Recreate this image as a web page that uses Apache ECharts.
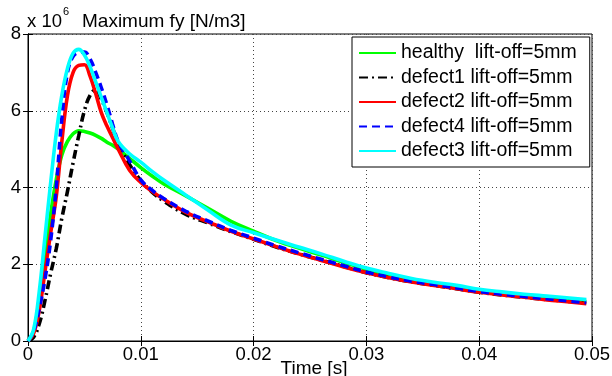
<!DOCTYPE html>
<html>
<head>
<meta charset="utf-8">
<script src="https://cdn.jsdelivr.net/npm/echarts@6/dist/echarts.min.js"></script>
<style>
html,body{margin:0;padding:0;background:#fff;}
#chart{width:612px;height:376px;}
</style>
</head>
<body>
<div id="chart"></div>
<script>
// ---- data (values in units of 10^6 N/m3) ----
const timeS = [0, 0.0005, 0.001, 0.0015, 0.002, 0.0025, 0.003, 0.0035, 0.004, 0.0045, 0.005, 0.0055, 0.006, 0.0065, 0.007, 0.0075, 0.008, 0.009, 0.010, 0.011, 0.012, 0.014, 0.016, 0.018, 0.020, 0.022, 0.024, 0.026, 0.028, 0.030, 0.032, 0.034, 0.036, 0.038, 0.040, 0.042, 0.044, 0.046, 0.048, 0.0495];

const healthy = [0, 0.25, 1.1, 2.2, 3.3, 4.2, 4.85, 5.2, 5.4, 5.48, 5.46, 5.42, 5.36, 5.28, 5.18, 5.1, 5.0, 4.76, 4.52, 4.3, 4.1, 3.78, 3.45, 3.12, 2.86, 2.62, 2.42, 2.24, 2.05, 1.87, 1.73, 1.6, 1.5, 1.41, 1.31, 1.24, 1.18, 1.12, 1.07, 1.03];
const defect1 = [0, 0.1, 0.45, 1.05, 1.75, 2.4, 3.2, 3.9, 4.65, 5.35, 6.0, 6.4, 6.55, 6.3, 5.95, 5.55, 5.15, 4.6, 4.18, 3.88, 3.65, 3.3, 3.07, 2.85, 2.65, 2.45, 2.27, 2.11, 1.94, 1.78, 1.65, 1.54, 1.45, 1.36, 1.27, 1.2, 1.14, 1.08, 1.03, 0.98];
const defect2 = [0, 0.2, 0.8, 1.8, 2.8, 3.75, 5.2, 6.4, 7.0, 7.18, 7.2, 6.9, 6.45, 5.95, 5.6, 5.3, 5.0, 4.45, 4.13, 3.9, 3.7, 3.35, 3.1, 2.86, 2.66, 2.46, 2.27, 2.1, 1.93, 1.78, 1.65, 1.54, 1.45, 1.36, 1.27, 1.2, 1.14, 1.07, 1.02, 0.97];
const defect4 = [0, 0.25, 0.85, 1.6, 2.6, 4.0, 5.8, 7.0, 7.42, 7.52, 7.53, 7.35, 7.0, 6.6, 6.15, 5.65, 5.2, 4.7, 4.2, 3.93, 3.72, 3.38, 3.12, 2.88, 2.68, 2.48, 2.3, 2.13, 1.96, 1.8, 1.67, 1.56, 1.47, 1.38, 1.29, 1.22, 1.16, 1.1, 1.04, 1.0];
const defect3 = [0, 0.3, 1.3, 2.7, 4.1, 5.4, 6.4, 7.1, 7.5, 7.6, 7.45, 7.15, 6.75, 6.35, 5.95, 5.55, 5.2, 4.88, 4.66, 4.42, 4.2, 3.8, 3.4, 3.02, 2.82, 2.63, 2.45, 2.27, 2.08, 1.9, 1.76, 1.63, 1.53, 1.45, 1.35, 1.28, 1.22, 1.17, 1.12, 1.08];

const seriesNames = ['healthy  lift-off=5mm', 'defect1 lift-off=5mm', 'defect2 lift-off=5mm', 'defect4 lift-off=5mm', 'defect3 lift-off=5mm'];
const xTicks = [0, 0.01, 0.02, 0.03, 0.04, 0.05];
const yTicks = [0, 2, 4, 6, 8];

const FONT = 'Liberation Sans, Arial, sans-serif';
const pairs = arr => timeS.map((t, i) => [t, arr[i]]);

const styles = [
  {color: '#00ff00', type: 'solid'},
  {color: '#000000', type: [9, 4, 2, 4]},
  {color: '#ff0000', type: 'solid'},
  {color: '#0000ff', type: [8, 5]},
  {color: '#00ffff', type: 'solid'}
];
const values = [healthy, defect1, defect2, defect4, defect3];

const chart = echarts.init(document.getElementById('chart'), null, {renderer: 'canvas'});

const xLabel = v => {
  const s = xTicks.find(t => Math.abs(t - v) < 1e-9);
  return s === undefined ? '' : String(s);
};

const option = {
  animation: false,
  backgroundColor: '#ffffff',
  grid: {left: 28, right: 20, top: 34, bottom: 35, containLabel: false, outerBoundsMode: 'none',
         show: true, borderColor: '#000', borderWidth: 1, backgroundColor: 'transparent'},
  graphic: [
    {type: 'text', left: 27, top: 12, style: {text: 'x 10', font: '18.5px ' + FONT, fill: '#000'}},
    {type: 'text', left: 63, top: 6, style: {text: '6', font: '11px ' + FONT, fill: '#000'}},
    {type: 'text', left: 82, top: 12, style: {text: 'Maximum fy [N/m3]', font: '19px ' + FONT, fill: '#000'}}
  ],
  legend: {
    orient: 'vertical',
    left: 352, top: 37,
    padding: [6, 13, 6, 6],
    itemWidth: 37, itemHeight: 12, itemGap: 4.5,
    backgroundColor: '#fff', borderColor: '#000', borderWidth: 1, borderRadius: 0,
    itemStyle: {opacity: 0},
    textStyle: {fontFamily: FONT, fontSize: 19.5, color: '#000', lineHeight: 20},
    data: seriesNames
  },
  xAxis: [
    {type: 'value', min: 0, max: 0.05, interval: 0.01,
     name: 'Time [s]', nameLocation: 'middle', nameGap: 18, nameMoveOverlap: false,
     nameTextStyle: {fontFamily: FONT, fontSize: 19, color: '#000', padding: [0, 0, 0, 8]},
     axisLine: {show: true, lineStyle: {color: '#000', width: 1}},
     axisTick: {show: true, inside: true, length: 5, lineStyle: {color: '#000'}},
     axisLabel: {show: true, margin: 4, formatter: xLabel, fontFamily: FONT, fontSize: 18.5, color: '#000'},
     splitLine: {show: true, lineStyle: {type: [1, 3], color: '#444', width: 1}}},
    {type: 'value', min: 0, max: 0.05, interval: 0.01, position: 'top',
     axisLine: {show: true, lineStyle: {color: '#000'}},
     axisTick: {show: true, inside: true, length: 5, lineStyle: {color: '#000'}},
     axisLabel: {show: false}, splitLine: {show: false}}
  ],
  yAxis: [
    {type: 'value', min: 0, max: 8, interval: 2,
     axisLine: {show: true, lineStyle: {color: '#000'}},
     axisTick: {show: true, inside: true, length: 5, lineStyle: {color: '#000'}},
     axisLabel: {show: true, margin: 7, fontFamily: FONT, fontSize: 18.5, color: '#000',
                 formatter: v => yTicks.includes(v) ? String(v) : ''},
     splitLine: {show: true, lineStyle: {type: [1, 3], color: '#444', width: 1}}},
    {type: 'value', min: 0, max: 8, interval: 2, position: 'right',
     axisLine: {show: true, lineStyle: {color: '#000'}},
     axisTick: {show: true, inside: true, length: 5, lineStyle: {color: '#000'}},
     axisLabel: {show: false}, splitLine: {show: false}}
  ],
  series: seriesNames.map((name, i) => ({
    name: name,
    type: 'line',
    xAxisIndex: 0, yAxisIndex: 0,
    data: pairs(values[i]),
    symbol: 'none',
    smooth: 0.4,
    color: styles[i].color,
    lineStyle: {color: styles[i].color, width: 3.6, type: styles[i].type},
    z: 2 + i
  }))
};
chart.setOption(option);
</script>
</body>
</html>
